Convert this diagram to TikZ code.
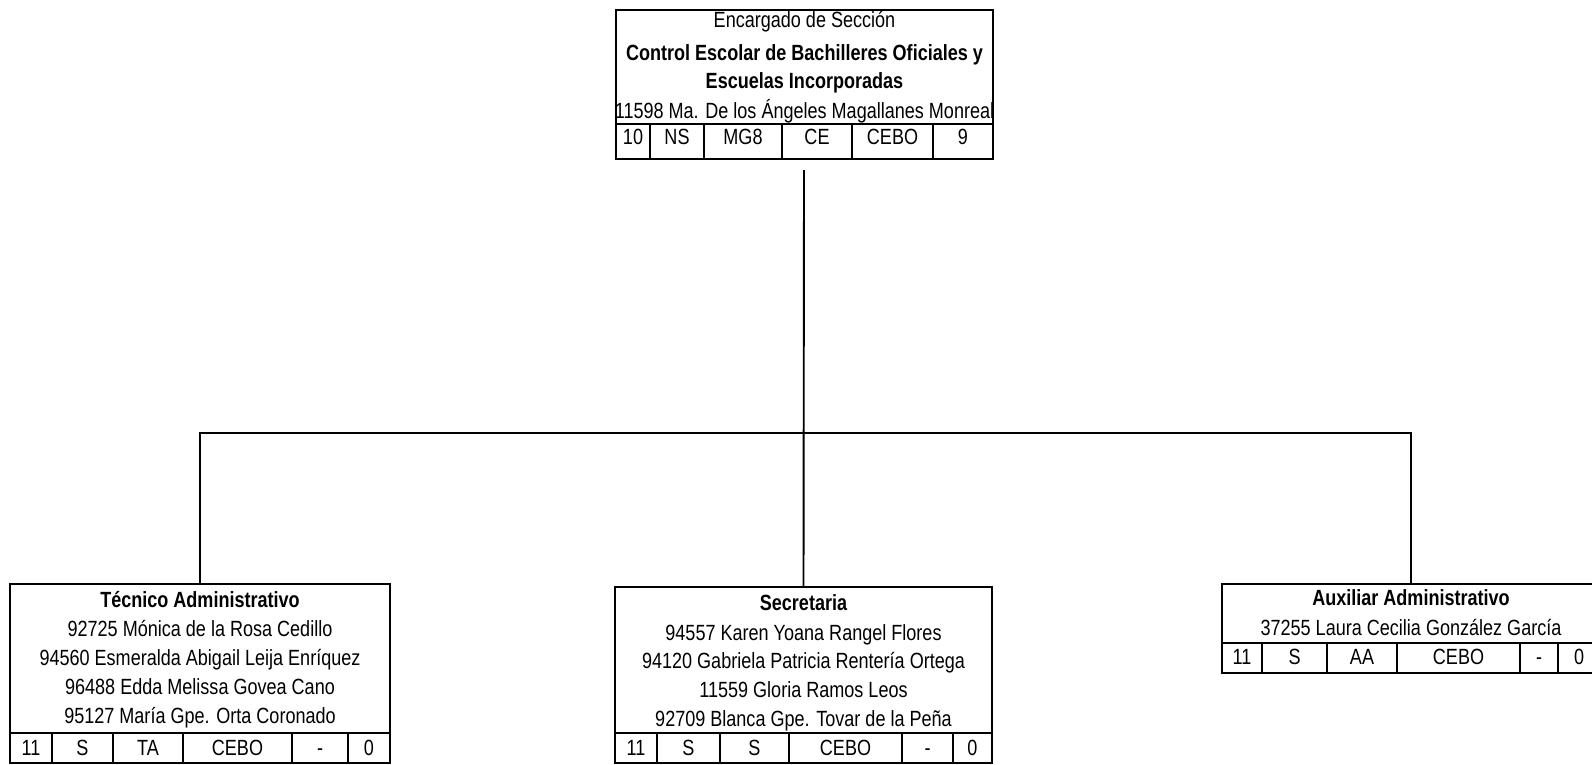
\documentclass[tikz,border=0pt]{standalone}
\usepackage{fontspec}
\setmainfont{Liberation Sans}[FakeStretch=0.82]
\newcommand{\fsz}{\fontsize{22}{26}\selectfont}
\begin{document}
\begin{tikzpicture}[x=1pt,y=-1pt,
  box/.style={draw, line width=2.2pt, anchor=north west, inner sep=0pt, outer sep=0pt},
  txt/.style={anchor=base, inner sep=0pt, font=\fsz},
  ttl/.style={anchor=base, inner sep=0pt, font=\fsz\bfseries},
  grid/.style={line width=2.2pt},
  conn/.style={line width=1.9pt}]
\useasboundingbox (0,0) rectangle (1592,765);
\clip (0,0) rectangle (1592,765);

% ---------- top box ----------
\node[box, minimum width=377pt, minimum height=149pt] (top) at (616,10) {};
\draw[grid] (616,124) -- (993,124);
\foreach \x in {650,704,782,852,933} \draw[grid] (\x,124) -- (\x,159);
\node[txt] (t1) at (804.5,28) {Encargado de Sección};
\node[ttl] (t2) at (804.5,61) {Control Escolar de Bachilleres Oficiales y};
\node[ttl] (t3) at (804.5,89) {Escuelas Incorporadas};
\node[txt] (t4) at (804.5,119) {11598 Ma. De los Ángeles Magallanes Monreal};
\node[txt] (tc1) at (633,144) {10};
\node[txt] (tc2) at (677,144) {NS};
\node[txt] (tc3) at (743,144) {MG8};
\node[txt] (tc4) at (817,144) {CE};
\node[txt] (tc5) at (892.5,144) {CEBO};
\node[txt] (tc6) at (963,144) {9};

% ---------- left box ----------
\node[box, minimum width=380pt, minimum height=179pt] (bl) at (10,584) {};
\draw[grid] (10,733) -- (390,733);
\foreach \x in {52,113,183,292,348} \draw[grid] (\x,733) -- (\x,763);
\node[ttl] (l1) at (200,607) {Técnico Administrativo};
\node[txt] (l2) at (200,636) {92725 Mónica de la Rosa Cedillo};
\node[txt] (l3) at (200,665) {94560 Esmeralda Abigail Leija Enríquez};
\node[txt] (l4) at (200,694) {96488 Edda Melissa Govea Cano};
\node[txt] (l5) at (200,723) {95127 María Gpe. Orta Coronado};
\node[txt] (lc1) at (31,755) {11};
\node[txt] (lc2) at (82.5,755) {S};
\node[txt] (lc3) at (148,755) {TA};
\node[txt] (lc4) at (237.5,755) {CEBO};
\node[txt] (lc5) at (320,755) {-};
\node[txt] (lc6) at (369,755) {0};

% ---------- middle box ----------
\node[box, minimum width=377pt, minimum height=176pt] (bm) at (615,587) {};
\draw[grid] (615,733) -- (992,733);
\foreach \x in {657,720,789,902,953} \draw[grid] (\x,733) -- (\x,763);
\node[ttl] (m1) at (803.5,610) {Secretaria};
\node[txt] (m2) at (803.5,640) {94557 Karen Yoana Rangel Flores};
\node[txt] (m3) at (803.5,668) {94120 Gabriela Patricia Rentería Ortega};
\node[txt] (m4) at (803.5,697) {11559 Gloria Ramos Leos};
\node[txt] (m5) at (803.5,726) {92709 Blanca Gpe. Tovar de la Peña};
\node[txt] (mc1) at (636,755) {11};
\node[txt] (mc2) at (688.5,755) {S};
\node[txt] (mc3) at (754.5,755) {S};
\node[txt] (mc4) at (845.5,755) {CEBO};
\node[txt] (mc5) at (927.5,755) {-};
\node[txt] (mc6) at (972.5,755) {0};

% ---------- right box ----------
\node[box, minimum width=378pt, minimum height=89pt] (br) at (1222,584) {};
\draw[grid] (1222,643) -- (1600,643);
\foreach \x in {1262,1327,1397,1520,1558} \draw[grid] (\x,643) -- (\x,673);
\node[ttl] (r1) at (1411,605) {Auxiliar Administrativo};
\node[txt] (r2) at (1411,635) {37255 Laura Cecilia González García};
\node[txt] (rc1) at (1242,664) {11};
\node[txt] (rc2) at (1294.5,664) {S};
\node[txt] (rc3) at (1362,664) {AA};
\node[txt] (rc4) at (1458.5,664) {CEBO};
\node[txt] (rc5) at (1539,664) {-};
\node[txt] (rc6) at (1579,664) {0};

% ---------- connectors ----------
\coordinate (c0) at (804,170);
\coordinate (bus) at (804,433);
\draw[conn] (c0) -- (bm.north);
\draw[conn] (bl.north) |- (bus) -| (br.north);
\end{tikzpicture}
\end{document}
